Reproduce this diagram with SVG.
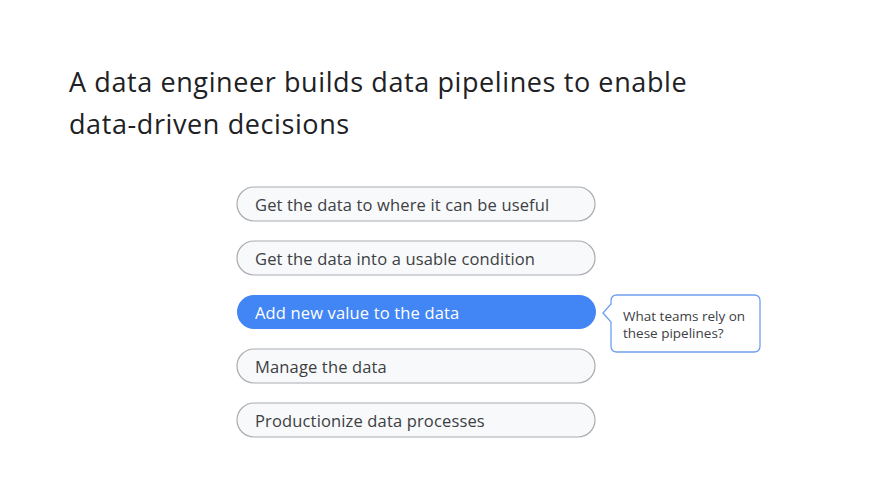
<svg xmlns="http://www.w3.org/2000/svg" width="884" height="484" viewBox="0 0 884 484">
<style>
.title{font-family:"Open Sans","Liberation Sans",sans-serif;font-size:27px;letter-spacing:0.6px;fill:#202124}
.pill{fill:#f8f9fa;stroke:#a8abb0;stroke-width:1.2}
.pill-on{fill:#4285f4;stroke:none}
.lbl{font-family:"Open Sans","Liberation Sans",sans-serif;font-size:16.5px;letter-spacing:0.15px;fill:#3c4043}
.lbl-on{font-family:"Open Sans","Liberation Sans",sans-serif;font-size:16.5px;letter-spacing:0.15px;fill:#ffffff}
.note{fill:#ffffff;stroke:#6fa0ee;stroke-width:1.3}
.ntxt{font-family:"Open Sans","Liberation Sans",sans-serif;font-size:13.5px;fill:#3c4043}
</style>
<rect width="884" height="484" fill="#ffffff"/>
<g id="title">
<text class="title" x="69" y="92">A data engineer builds data pipelines to enable</text>
<text class="title" x="69" y="134">data-driven decisions</text>
</g>
<g id="node1"><rect class="pill" x="237" y="187" width="358" height="34" rx="17"/><text class="lbl" x="255" y="210.5">Get the data to where it can be useful</text></g>
<g id="node2"><rect class="pill" x="237" y="241" width="358" height="34" rx="17"/><text class="lbl" x="255" y="264.5">Get the data into a usable condition</text></g>
<g id="node3"><rect class="pill-on" x="237" y="295" width="359" height="34" rx="17"/><text class="lbl-on" x="255" y="318.5">Add new value to the data</text></g>
<g id="node4"><rect class="pill" x="237" y="349" width="358" height="34" rx="17"/><text class="lbl" x="255" y="372.5">Manage the data</text></g>
<g id="node5"><rect class="pill" x="237" y="403" width="358" height="34" rx="17"/><text class="lbl" x="255" y="426.5">Productionize data processes</text></g>
<g id="callout">
<path class="note" d="M617,295 H754 Q760,295 760,301 V346 Q760,352 754,352 H617 Q611,352 611,346 V322 L603,313 L611,304 V301 Q611,295 617,295 Z"/>
<text class="ntxt" x="623" y="321">What teams rely on</text>
<text class="ntxt" x="623" y="338">these pipelines?</text>
</g>
<g id="connectors"></g>
</svg>
